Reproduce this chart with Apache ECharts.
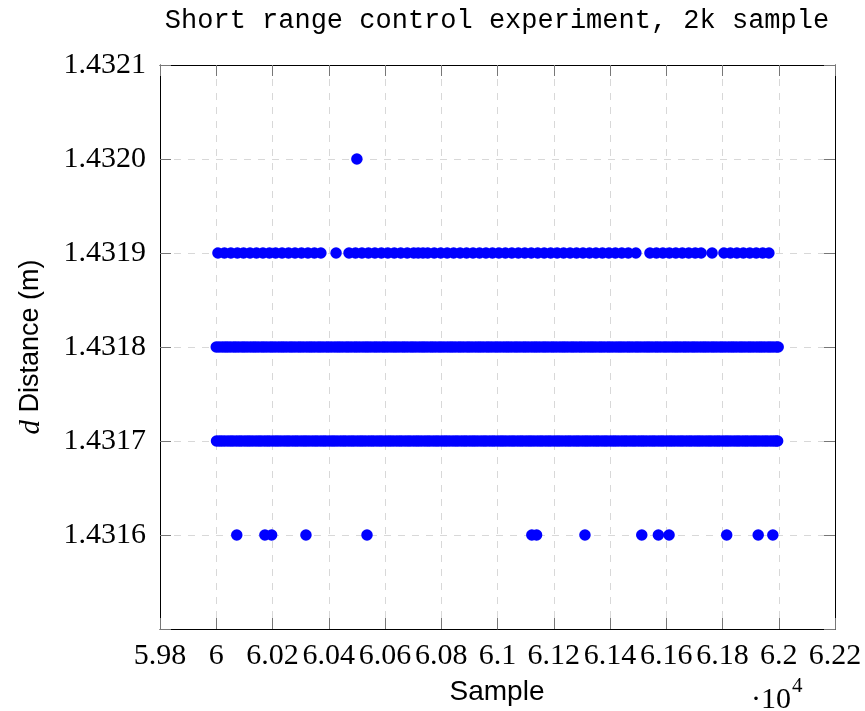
<!DOCTYPE html>
<html><head><meta charset="utf-8">
<script src="https://cdn.jsdelivr.net/npm/echarts@6/dist/echarts.min.js"></script>
<style>html,body{margin:0;padding:0;background:#fff}#c{width:865px;height:711px}</style>
</head><body><div id="c"></div>
<script>
// Sample indices at each measured distance level
const level1_4316 = [60073,60173,60197,60319,60536,61122,61139,61311,61513,61572,61610,61815,61927,61979];
const level1_4317 = [
60001,60011,60020,60030,60041,60051,60060,60071,60081,60090,
60101,60111,60120,60130,60141,60151,60160,60171,60181,60190,
60201,60211,60220,60230,60241,60251,60260,60271,60281,60290,
60301,60311,60320,60330,60341,60351,60360,60371,60381,60390,
60401,60411,60420,60430,60441,60451,60460,60471,60481,60490,
60501,60511,60520,60530,60541,60551,60560,60571,60581,60590,
60601,60611,60620,60630,60641,60651,60660,60671,60681,60690,
60701,60711,60720,60730,60741,60751,60760,60771,60781,60790,
60801,60811,60820,60830,60841,60851,60860,60871,60881,60890,
60901,60911,60920,60930,60941,60951,60960,60971,60981,60990,
61001,61011,61020,61030,61041,61051,61060,61071,61081,61090,
61101,61111,61120,61130,61141,61151,61160,61171,61181,61190,
61201,61211,61220,61230,61241,61251,61260,61271,61281,61290,
61301,61311,61320,61330,61341,61351,61360,61371,61381,61390,
61401,61411,61420,61430,61441,61451,61460,61471,61481,61490,
61501,61511,61520,61530,61541,61551,61560,61571,61581,61590,
61601,61611,61620,61630,61641,61651,61660,61671,61681,61690,
61701,61711,61720,61730,61741,61751,61760,61771,61781,61790,
61801,61811,61820,61830,61841,61851,61860,61871,61881,61890,
61901,61911,61920,61930,61941,61951,61960,61971,61981,61990,61996];
const level1_4318 = [
60000,60010,60021,60031,60040,60050,60061,60070,60080,60091,
60100,60110,60121,60131,60140,60150,60161,60170,60180,60191,
60200,60210,60221,60231,60240,60250,60261,60270,60280,60291,
60300,60310,60321,60331,60340,60350,60361,60370,60380,60391,
60400,60410,60421,60431,60440,60450,60461,60470,60480,60491,
60500,60510,60521,60531,60540,60550,60561,60570,60580,60591,
60600,60610,60621,60631,60640,60650,60661,60670,60680,60691,
60700,60710,60721,60731,60740,60750,60761,60770,60780,60791,
60800,60810,60821,60831,60840,60850,60861,60870,60880,60891,
60900,60910,60921,60931,60940,60950,60961,60970,60980,60991,
61000,61010,61021,61031,61040,61050,61061,61070,61080,61091,
61100,61110,61121,61131,61140,61150,61161,61170,61180,61191,
61200,61210,61221,61231,61240,61250,61261,61270,61280,61291,
61300,61310,61321,61331,61340,61350,61361,61370,61380,61391,
61400,61410,61421,61431,61440,61450,61461,61470,61480,61491,
61500,61510,61521,61531,61540,61550,61561,61570,61580,61591,
61600,61610,61621,61631,61640,61650,61661,61670,61680,61691,
61700,61710,61721,61731,61740,61750,61761,61770,61780,61791,
61800,61810,61821,61831,61840,61850,61861,61870,61880,61891,
61900,61910,61921,61931,61940,61950,61961,61970,61980,61991,61998];
const level1_4319 = [
60006,60029,60052,60075,60097,60120,60143,60166,60189,60211,60234,60257,60280,60303,60326,60349,60372,
60426,
60472,60495,60518,60541,60564,60587,60610,60633,60656,60679,60702,60718,
60735,
60752,60775,60798,60821,60844,60867,60890,60913,60936,60959,60982,61005,61028,61051,61074,61097,
61120,61143,61166,61189,61212,61235,61258,61281,61304,61327,61350,61373,61396,61419,61442,61465,61492,
61542,61565,61588,61611,61634,61657,61680,61703,61724,
61763,
61805,61828,61851,61874,61897,61920,61943,61965];
const level1_4320 = [60500];

const levels = [1.4316, 1.4317, 1.4318, 1.4319, 1.4320];
const samplesByLevel = [level1_4316, level1_4317, level1_4318, level1_4319, level1_4320];

const titleText = 'Short range control experiment, 2k sample';
const xName = 'Sample';

const points = [];
samplesByLevel.forEach((arr, i) => arr.forEach(x => points.push([x, levels[i]])));

const chart = echarts.init(document.getElementById('c'), null, {renderer: 'canvas'});
const serif = 'Liberation Serif';
const axisLineStyle = {color: '#000', width: 1};
const tickStyle = {color: '#777', width: 1};

chart.setOption({
  animation: false,
  backgroundColor: '#fff',
  grid: {left: 160, right: 30, top: 65, bottom: 82, containLabel: false},
  xAxis: [{
    type: 'value', min: 59800, max: 62200, interval: 200, position: 'bottom',
    axisLine: {show: true, onZero: false, lineStyle: axisLineStyle},
    axisTick: {show: true, inside: true, length: 11, lineStyle: tickStyle},
    axisLabel: {margin: 12, fontFamily: serif, fontSize: 30, color: '#000',
      showMinLabel: true, showMaxLabel: true,
      formatter: v => String(+(v / 10000).toFixed(2))},
    splitLine: {show: true, lineStyle: {type: [7, 7], color: '#d8d8d8', width: 1}}
  }, {
    type: 'value', min: 59800, max: 62200, interval: 200, position: 'top',
    axisLine: {show: true, onZero: false, lineStyle: axisLineStyle},
    axisTick: {show: true, inside: true, length: 11, lineStyle: tickStyle},
    axisLabel: {show: false}, splitLine: {show: false}
  }],
  yAxis: [{
    type: 'value', min: 1.4315, max: 1.4321, interval: 0.0001, position: 'left',
    axisLine: {show: true, onZero: false, lineStyle: axisLineStyle},
    axisTick: {show: true, inside: true, length: 11, lineStyle: tickStyle},
    axisLabel: {margin: 14, fontFamily: serif, fontSize: 30, color: '#000',
      showMinLabel: true, showMaxLabel: true,
      formatter: v => Math.abs(v - 1.4315) < 1e-7 ? '' : v.toFixed(4)},
    splitLine: {show: true, lineStyle: {type: [7, 7], color: '#d8d8d8', width: 1}}
  }, {
    type: 'value', min: 1.4315, max: 1.4321, interval: 0.0001, position: 'right',
    axisLine: {show: true, onZero: false, lineStyle: axisLineStyle},
    axisTick: {show: true, inside: true, length: 11, lineStyle: tickStyle},
    axisLabel: {show: false}, splitLine: {show: false}
  }],
  series: [{
    type: 'scatter', xAxisIndex: 0, yAxisIndex: 0,
    symbol: 'circle', symbolSize: 11.5,
    itemStyle: {color: '#0000ff', opacity: 1},
    data: points, z: 5
  }],
  graphic: [
    {type: 'text', x: 497, y: 21, style: {text: titleText, font: '27px "Liberation Mono"', fill: '#000', align: 'center', verticalAlign: 'middle'}},
    {type: 'text', x: 497, y: 692, style: {text: xName, font: '28px "Liberation Sans"', fill: '#000', align: 'center', verticalAlign: 'middle'}},
    {type: 'text', x: 31, y: 347, rotation: Math.PI / 2,
      style: {text: '{i|d} Distance (m)', font: '27px "Liberation Sans"', fill: '#000', align: 'center', verticalAlign: 'middle',
        rich: {i: {fontFamily: serif, fontStyle: 'italic', fontSize: 29, fill: '#000'}}}},
    {type: 'text', x: 791, y: 700, style: {text: '·10', font: '30px "Liberation Serif"', fill: '#000', align: 'right', verticalAlign: 'middle'}},
    {type: 'text', x: 792, y: 686, style: {text: '4', font: '21px "Liberation Serif"', fill: '#000', align: 'left', verticalAlign: 'middle'}}
  ]
});
</script>
</body></html>
